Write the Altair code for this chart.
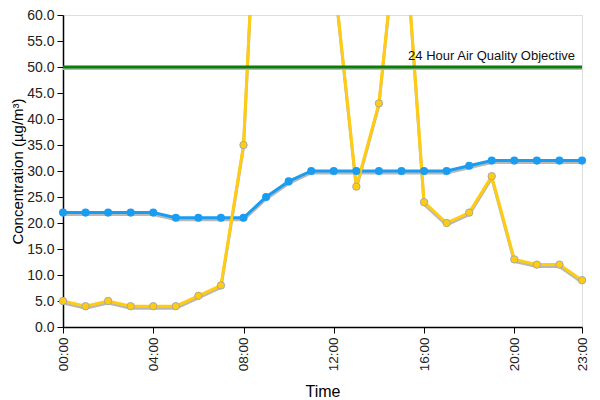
import altair as alt
import pandas as pd

hours = list(range(24))
blue_values = [22, 22, 22, 22, 22, 21, 21, 21, 21, 25, 28, 30, 30, 30, 30, 30, 30, 30, 31, 32, 32, 32, 32, 32]
yellow_values = [5, 4, 5, 4, 4, 4, 6, 8, 35, 124, 110, 90, 68, 27, 43, 85, 24, 20, 22, 29, 13, 12, 12, 9]
x_tick_values = [0, 4, 8, 12, 16, 20, 23]
y_tick_values = [0, 5, 10, 15, 20, 25, 30, 35, 40, 45, 50, 55, 60]
objective_value = 50
objective_label = "24 Hour Air Quality Objective"

df = pd.DataFrame({"hour": hours, "blue": blue_values, "yellow": yellow_values})
obj = pd.DataFrame({"y": [objective_value], "x0": [0], "x1": [23], "label": [objective_label]})

FONT = "Liberation Sans"
BLUE = "#1a9cf0"
YELLOW = "#ffcc11"
GREEN = "#0b7d0b"
SHADOW = "#b8b8b8"

xscale = alt.Scale(domain=[0, 23], nice=False, zero=False)
yscale = alt.Scale(domain=[0, 60], nice=False)

xaxis = alt.Axis(
    values=x_tick_values,
    labelExpr="(datum.value < 10 ? '0' : '') + datum.value + ':00'",
    labelAngle=-90, labelFont=FONT, labelFontSize=13.5, labelColor="#222",
    labelPadding=4, tickSize=6, tickColor="#000", domainColor="#000", domainWidth=1.5,
    labelOverlap=False, grid=False, title="Time", titleFont=FONT, titleFontSize=16,
    titleFontWeight="normal", titleColor="#000", titlePadding=13,
)
yaxis = alt.Axis(
    values=y_tick_values, format=".1f",
    labelFont=FONT, labelFontSize=14, labelColor="#222", labelPadding=3,
    labelOverlap=False, labelFlush=False,
    tickSize=6, tickColor="#000", domainColor="#000", domainWidth=1.5,
    grid=False, title="Concentration (µg/m³)", titleFont=FONT, titleFontSize=15,
    titleFontWeight="normal", titleColor="#000", titlePadding=1,
)

def X(field):
    return alt.X(f"{field}:Q", scale=xscale, axis=xaxis)

def Y(field):
    return alt.Y(f"{field}:Q", scale=yscale, axis=yaxis)

base = alt.Chart(df)

def line_layer(col, color, shadow=False):
    kw = dict(color=SHADOW if shadow else color, strokeWidth=3, clip=True)
    if shadow:
        kw["yOffset"] = 2
    return base.mark_line(**kw).encode(x=X("hour"), y=Y(col))

blue_shadow = line_layer("blue", BLUE, True)
yellow_shadow = line_layer("yellow", YELLOW, True)
blue_line = line_layer("blue", BLUE)
yellow_line = line_layer("yellow", YELLOW)

blue_pts = base.transform_filter(alt.datum.blue <= 60).mark_circle(
    size=65, color=BLUE, opacity=1
).encode(x=X("hour"), y=Y("blue"))

yellow_pts = base.transform_filter(alt.datum.yellow <= 60).mark_point(
    size=55, filled=True, fill=YELLOW, stroke="#a8a8a8", strokeWidth=1, opacity=1
).encode(x=X("hour"), y=Y("yellow"))

ob = alt.Chart(obj)
rule_shadow = ob.mark_rule(color=SHADOW, strokeWidth=3, yOffset=1.5).encode(
    x=X("x0"), x2="x1:Q", y=Y("y")
)
rule = ob.mark_rule(color=GREEN, strokeWidth=3).encode(
    x=X("x0"), x2="x1:Q", y=Y("y")
)
label = ob.mark_text(
    align="right", baseline="bottom", dx=-7, dy=-4, font=FONT, fontSize=13, color="#111"
).encode(x=X("x1"), y=Y("y"), text="label:N")

chart = alt.layer(
    blue_shadow, yellow_shadow, blue_line, yellow_line, yellow_pts, blue_pts,
    rule_shadow, rule, label
).properties(
    width=519, height=312,
    autosize=alt.AutoSizeParams(type="none"),
    padding={"left": 55, "top": 7, "right": 10, "bottom": 73},
).configure_view(stroke=None).configure(background="white")

chart.save("out.html", embed_options={"renderer": "svg", "actions": False})
